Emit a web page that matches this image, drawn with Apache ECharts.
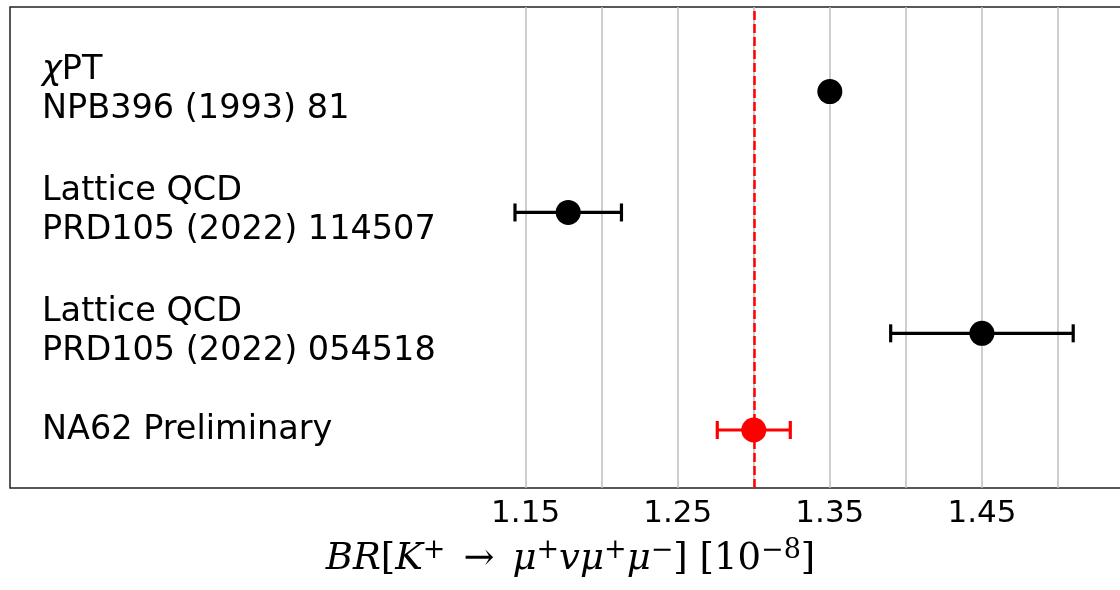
<!DOCTYPE html>
<html>
<head>
<meta charset="utf-8">
<script src="https://cdn.jsdelivr.net/npm/echarts@6/dist/echarts.min.js"></script>
<style>
html,body{margin:0;padding:0;background:#fff;}
#chart{width:1120px;height:590px;}
</style>
</head>
<body>
<div id="chart"></div>
<script>
// ---- data ----
const rowLabels = ['{g|χ}PT\nNPB396 (1993) 81', 'Lattice QCD\nPRD105 (2022) 114507', 'Lattice QCD\nPRD105 (2022) 054518', 'NA62 Preliminary'];
const rowPos = [3, 2, 1, 0.2];
const central = [1.35, 1.178, 1.45, 1.30];
const errors = [null, 0.035, 0.06, 0.024];
const refValue = 1.30;
const tickLabels = [1.15, 1.25, 1.35, 1.45];
const gridValues = [1.15, 1.20, 1.25, 1.30, 1.35, 1.40, 1.45, 1.50];

// ---- layout / style ----
const labelX = 0.832;
const pointColors = ['#000000', '#000000', '#000000', '#ff0000'];
const textFont = 'DejaVu Sans';
const mathFont = 'DejaVu Serif';

const chart = echarts.init(document.getElementById('chart'), null, {renderer: 'canvas'});

const errData = [];
const ptData = [];
central.forEach((c, i) => {
  ptData.push({value: [c, rowPos[i]], itemStyle: {color: pointColors[i], opacity: 1}});
  if (errors[i] != null) errData.push([c - errors[i], c + errors[i], rowPos[i], i]);
});

const mainSz = 37, supSz = 27;
const option = {
  animation: false,
  backgroundColor: '#ffffff',
  grid: {left: 10, top: 7, width: 1121, height: 481, outerBoundsMode: 'none', containLabel: false,
         show: true, borderColor: '#222', borderWidth: 1.5, backgroundColor: 'transparent'},
  xAxis: {
    type: 'value', min: 0.811, max: 1.548,
    axisLine: {show: false},
    axisTick: {show: false, customValues: gridValues},
    splitLine: {show: true, lineStyle: {color: '#bcbcbc', width: 1.5}},
    axisLabel: {
      customValues: tickLabels, margin: 10,
      fontFamily: textFont, fontSize: 31, color: '#000',
      formatter: v => v.toFixed(2)
    },
    name: '{i|BR}{n|[}{i|K}{s|+}{a|→}{i|μ}{s|+}{i|vμ}{s|+}{i|μ}{s|−}{n|] [10}{s|−8}{n|]}',
    nameLocation: 'middle', nameGap: 49,
    nameTextStyle: {
      rich: {
        i: {fontFamily: mathFont, fontStyle: 'italic', fontSize: mainSz, color: '#000', lineHeight: 44},
        n: {fontFamily: mathFont, fontSize: mainSz, color: '#000', lineHeight: 44},
        a: {fontFamily: mathFont, fontSize: mainSz, color: '#000', lineHeight: 44, padding: [0, 18, 0, 18]},
        s: {fontFamily: mathFont, fontSize: supSz, color: '#000', lineHeight: 23, verticalAlign: 'top'}
      }
    }
  },
  yAxis: {
    type: 'value', min: -0.28, max: 3.70,
    axisLine: {show: false}, axisTick: {show: false}, axisLabel: {show: false}, splitLine: {show: false}
  },
  series: [
    {
      type: 'scatter', name: 'labels', silent: true, symbolSize: 0,
      itemStyle: {opacity: 1},
      data: rowPos.map(y => [labelX, y]),
      label: {
        show: true, position: 'right', distance: 0,
        fontFamily: textFont, fontSize: 33.5, lineHeight: 39, color: '#000',
        formatter: p => rowLabels[p.dataIndex],
        rich: {g: {fontFamily: textFont, fontStyle: 'italic', fontSize: 33.5, lineHeight: 39, color: '#000'}}
      },
      labelLayout: p => ({dy: rowLabels[p.dataIndex].indexOf('\n') >= 0 ? -2 : 0}),
      z: 5
    },
    {
      type: 'custom', name: 'errors', silent: true,
      data: errData,
      renderItem: (params, api) => {
        const lo = api.coord([api.value(0), api.value(2)]);
        const hi = api.coord([api.value(1), api.value(2)]);
        const col = pointColors[api.value(3)];
        const cap = 9;
        const st = {stroke: col, lineWidth: 3.2};
        return {type: 'group', children: [
          {type: 'line', shape: {x1: lo[0], y1: lo[1], x2: hi[0], y2: hi[1]}, style: st},
          {type: 'line', shape: {x1: lo[0], y1: lo[1] - cap, x2: lo[0], y2: lo[1] + cap}, style: st},
          {type: 'line', shape: {x1: hi[0], y1: hi[1] - cap, x2: hi[0], y2: hi[1] + cap}, style: st}
        ]};
      },
      z: 6
    },
    {
      type: 'scatter', name: 'points', silent: true, symbol: 'circle', symbolSize: 25,
      itemStyle: {opacity: 1},
      data: ptData,
      markLine: {
        silent: true, symbol: ['none', 'none'], label: {show: false},
        lineStyle: {color: '#ff0000', type: [9, 4], width: 2.5, opacity: 1},
        data: [{xAxis: refValue}]
      },
      z: 7
    }
  ]
};
chart.setOption(option);
</script>
</body>
</html>
